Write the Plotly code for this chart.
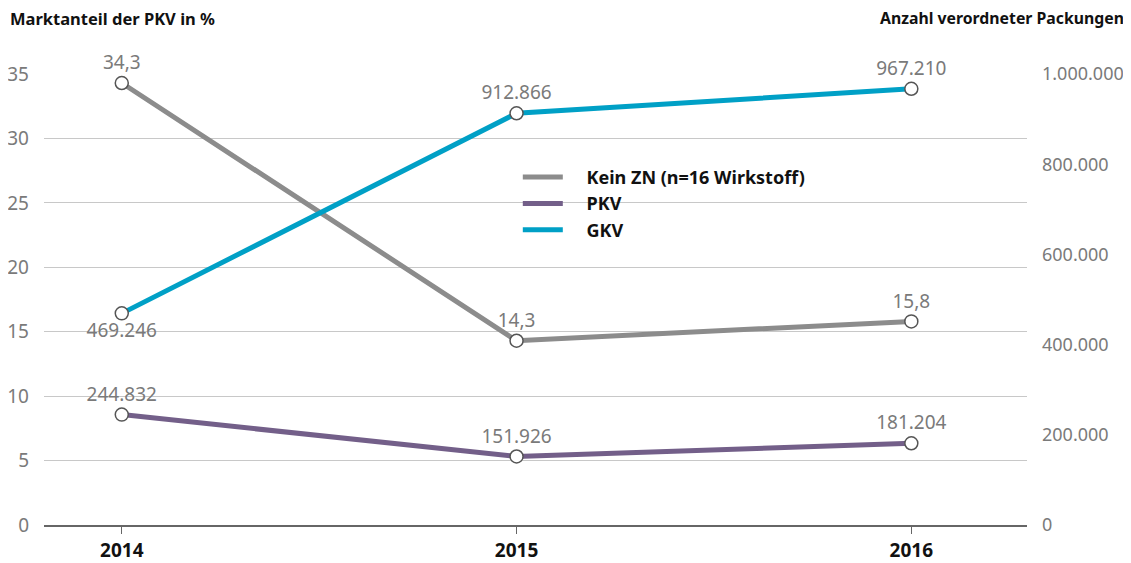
import plotly.graph_objects as go

years = ["2014", "2015", "2016"]
x_pos = [0, 1, 2]
kein_zn_share = [34.3, 14.3, 15.8]
pkv_packs = [244832, 151926, 181204]
gkv_packs = [469246, 912866, 967210]

left_ticks = [0, 5, 10, 15, 20, 25, 30, 35]
right_ticks = [0, 200000, 400000, 600000, 800000, 1000000]

GRAY = "#8c8c8c"
PURPLE = "#735f89"
BLUE = "#00a0c6"
LABEL = "#7a7a7a"
FONT = "Noto Sans"
NUM = 19

marker = dict(size=13, color="white", line=dict(color="#555555", width=1.5))

fig = go.Figure()

fig.add_trace(go.Scatter(
    x=x_pos, y=kein_zn_share, mode="lines+markers+text", yaxis="y",
    line=dict(color=GRAY, width=5), marker=marker,
    texttemplate="%{y:.1f}", textposition="top center",
    textfont=dict(color=LABEL, size=NUM, family=FONT), showlegend=False, cliponaxis=False))
fig.add_trace(go.Scatter(
    x=x_pos, y=pkv_packs, mode="lines+markers+text", yaxis="y2",
    line=dict(color=PURPLE, width=5), marker=marker,
    texttemplate="%{y:,d}", textposition="top center",
    textfont=dict(color=LABEL, size=NUM, family=FONT), showlegend=False, cliponaxis=False))
fig.add_trace(go.Scatter(
    x=x_pos, y=gkv_packs, mode="lines+markers+text", yaxis="y2",
    line=dict(color=BLUE, width=5), marker=marker,
    texttemplate="%{y:,d}", textposition=["bottom center", "top center", "top center"],
    textfont=dict(color=LABEL, size=NUM, family=FONT), showlegend=False, cliponaxis=False))

for name, col in [("Kein ZN (n=16 Wirkstoff)", GRAY), ("PKV", PURPLE), ("GKV", BLUE)]:
    fig.add_trace(go.Scatter(x=[None], y=[None], mode="lines", name="\u00a0" * 4 + name,
                             line=dict(color=col, width=5)))

# the page body adds an 8px offset; size/margins compensate so the plot area sits at 44..1027 x 74..525
fig.update_layout(
    width=1123, height=555,
    margin=dict(l=36, r=104, t=66, b=38),
    paper_bgcolor="white", plot_bgcolor="white",
    separators=",.",
    font=dict(family=FONT, color=LABEL, size=NUM),
    xaxis=dict(range=[-0.197, 2.293], tickvals=x_pos, ticktext=years, automargin=False,
               tickfont=dict(family=FONT, size=NUM, color="#111111", weight="bold"),
               showgrid=False, zeroline=False, showline=True, linecolor="#666666", linewidth=1.5,
               ticks="outside", ticklen=7, tickcolor="#666666"),
    yaxis=dict(range=[0, 35], tickvals=left_ticks, showgrid=True, gridcolor="#c8c8c8",
               gridwidth=1, zeroline=False, tickfont=dict(size=NUM, color=LABEL),
               ticklabelstandoff=14, automargin=False),
    yaxis2=dict(range=[0, 1000000], tickvals=right_ticks, tickformat=",d", overlaying="y",
                side="right", showgrid=False, zeroline=False, automargin=False,
                tickfont=dict(size=18, color=LABEL), ticklabelstandoff=14),
    legend=dict(x=0.482, y=0.812, xanchor="left", yanchor="top", bgcolor="rgba(0,0,0,0)",
                font=dict(size=18, color="#111111", family=FONT, weight="bold"),
                tracegroupgap=0, itemwidth=40),
    shapes=[dict(type="rect", xref="paper", yref="paper", x0=0.4608, x1=0.8016,
                 y0=0.632, y1=0.798, fillcolor="white", line=dict(width=0), layer="between")],
    annotations=[
        dict(text="<b>Marktanteil der PKV in %</b>", x=0, xref="paper", xshift=-36,
             y=1, yref="paper", yshift=56, xanchor="left", yanchor="middle", showarrow=False,
             font=dict(size=16.5, color="#111111", family=FONT)),
        dict(text="<b>Anzahl verordneter Packungen</b>", x=1, xref="paper", xshift=99,
             y=1, yref="paper", yshift=56, xanchor="right", yanchor="middle", showarrow=False,
             font=dict(size=15.8, color="#111111", family=FONT)),
    ],
)

fig.write_html("out.html")
